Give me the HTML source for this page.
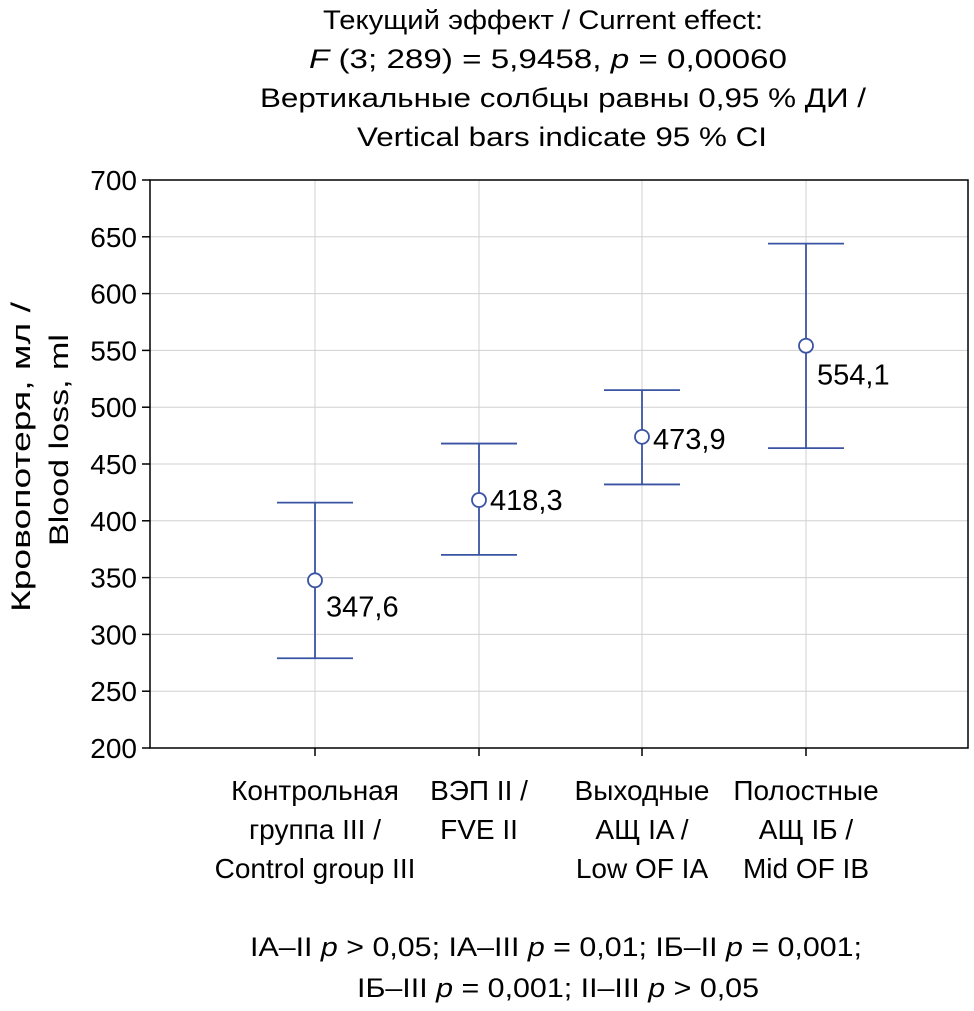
<!DOCTYPE html>
<html><head><meta charset="utf-8">
<style>
html,body{margin:0;padding:0;background:#fff;}
svg{display:block;font-family:"Liberation Sans","DejaVu Sans",sans-serif;}
</style></head>
<body>
<svg id="chart" width="974" height="1011" viewBox="0 0 974 1011" xmlns="http://www.w3.org/2000/svg">
<g font-size="27" fill="#000" text-anchor="middle">
<text x="543" y="29" textLength="440" lengthAdjust="spacingAndGlyphs">Текущий эффект / Current effect:</text>
<text x="548" y="68" textLength="478" lengthAdjust="spacingAndGlyphs"><tspan font-style="italic">F</tspan> (3; 289) = 5,9458, <tspan font-style="italic">p</tspan> = 0,00060</text>
<text x="563" y="107" textLength="606" lengthAdjust="spacingAndGlyphs">Вертикальные солбцы равны 0,95 % ДИ /</text>
<text x="562" y="146" textLength="410" lengthAdjust="spacingAndGlyphs">Vertical bars indicate 95 % CI</text>
</g>
<g id="grid"></g>
<g id="yaxis"></g>
<g id="xaxis"></g>
<g id="marks"></g>
<text transform="translate(30,457) rotate(-90)" font-size="27" text-anchor="middle" textLength="310" lengthAdjust="spacingAndGlyphs">Кровопотеря, мл /</text>
<text transform="translate(68,440) rotate(-90)" font-size="27" text-anchor="middle" textLength="212" lengthAdjust="spacingAndGlyphs">Blood loss, ml</text>
<g font-size="27" text-anchor="middle">
<text x="556" y="956" textLength="612" lengthAdjust="spacingAndGlyphs">IA–II <tspan font-style="italic">p</tspan> &gt; 0,05; IA–III <tspan font-style="italic">p</tspan> = 0,01; IБ–II <tspan font-style="italic">p</tspan> = 0,001;</text>
<text x="558" y="997" textLength="402" lengthAdjust="spacingAndGlyphs">IБ–III <tspan font-style="italic">p</tspan> = 0,001; II–III <tspan font-style="italic">p</tspan> &gt; 0,05</text>
</g>
</svg>
<script>
const categories=[["Контрольная","группа III /","Control group III"],["ВЭП II /","FVE II"],["Выходные","АЩ IA /","Low OF IA"],["Полостные","АЩ IБ /","Mid OF IB"]];
const means=[347.6,418.3,473.9,554.1];
const lower=[279,370,432,464];
const upper=[416,468,515,644];
const valueLabels=["347,6","418,3","473,9","554,1"];
const yTicks=[200,250,300,350,400,450,500,550,600,650,700];
const labelDy=[26,0,2,29];
const NS="http://www.w3.org/2000/svg";
const L=150,R=968,T=180,B=748,ymin=200,ymax=700;
const catX=[315,479,642,806];
function y(v){return B-(v-ymin)/(ymax-ymin)*(B-T);}
function x(i){return catX[i];}
function mk(p,tag,a){const e=document.createElementNS(NS,tag);for(const k in a)e.setAttribute(k,a[k]);p.appendChild(e);return e;}
const grid=document.getElementById('grid'),ya=document.getElementById('yaxis'),xa=document.getElementById('xaxis'),mg=document.getElementById('marks');
yTicks.forEach(t=>{
 const g=mk(grid,'line',{x1:L,x2:R,y1:y(t),y2:y(t),stroke:'#d0d0d0','stroke-width':1});
 
 
 const tk=mk(ya,'line',{x1:L-8,x2:L,y1:y(t),y2:y(t),stroke:'#000','stroke-width':1.5});
 
 
 const tx=mk(ya,'text',{x:L-13,y:y(t)+10,'font-size':28,'text-anchor':'end'});
 tx.textContent=t;
 
 
});
categories.forEach((c,i)=>{
 const g=mk(grid,'line',{x1:x(i),x2:x(i),y1:T,y2:B,stroke:'#d0d0d0','stroke-width':1});
 
 
 const tk=mk(xa,'line',{x1:x(i),x2:x(i),y1:B,y2:B+8,stroke:'#000','stroke-width':1.5});
 
 
 c.forEach((ln,j)=>{
  const tx=mk(xa,'text',{x:x(i),y:800+j*39,'font-size':28,'text-anchor':'middle'});
  tx.textContent=ln;
  
  
 });
});
mk(ya,'rect',{x:L,y:T,width:R-L,height:B-T,fill:'none',stroke:'#000','stroke-width':1.5});
const blue='#3a54a4';
means.forEach((m,i)=>{
 const g=mk(mg,'g',{});
 
 
 mk(g,'line',{x1:x(i),x2:x(i),y1:y(upper[i]),y2:y(lower[i]),stroke:blue,'stroke-width':1.8});
 mk(g,'line',{x1:x(i)-38,x2:x(i)+38,y1:y(upper[i]),y2:y(upper[i]),stroke:blue,'stroke-width':1.8});
 mk(g,'line',{x1:x(i)-38,x2:x(i)+38,y1:y(lower[i]),y2:y(lower[i]),stroke:blue,'stroke-width':1.8});
 const c=mk(mg,'circle',{cx:x(i),cy:y(m),r:7,fill:'#fff',stroke:blue,'stroke-width':1.8});
 
 
 const t=mk(mg,'text',{x:x(i)+11,y:y(m)+labelDy[i]+10,'font-size':29});
 t.textContent=valueLabels[i];
 
 
});
</script>
</body></html>
